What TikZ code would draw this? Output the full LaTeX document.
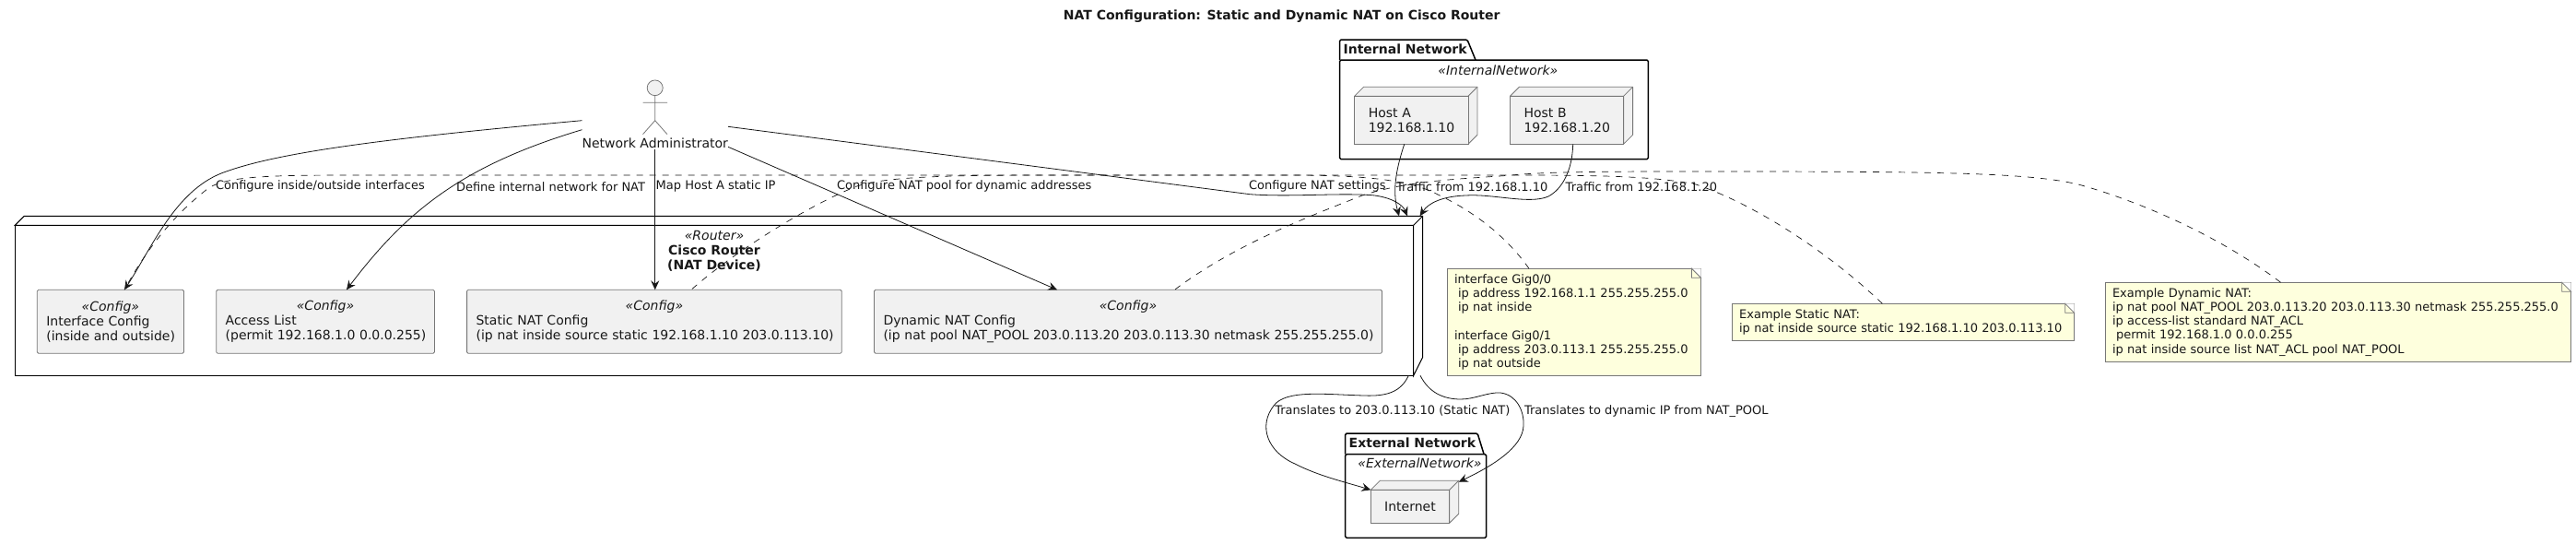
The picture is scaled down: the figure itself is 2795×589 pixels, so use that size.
\documentclass[tikz,border=0pt]{standalone}
\usepackage{fontspec}
\setmainfont{DejaVu Sans}
\usetikzlibrary{arrows.meta,shapes.geometric}
\newcommand{\fA}{\fontsize{14}{16}\selectfont}
\newcommand{\fB}{\fontsize{13}{15.15}\selectfont}
\newcommand{\lft}[1]{\makebox[\linewidth][l]{#1}}
\definecolor{ink}{HTML}{181818}
\definecolor{edge}{HTML}{777777}
\definecolor{boxfill}{HTML}{F1F1F1}
\definecolor{notefill}{HTML}{FEFFDD}
\tikzset{
  x=1pt,y=-1pt,
  every node/.style={inner sep=0pt,outer sep=0pt,text=ink},
  cfgbox/.style={draw=edge,line width=0.8pt,fill=boxfill,rounded corners=1.5pt,font=\fA,align=center},
  hostbox/.style={draw=edge,line width=0.8pt,fill=boxfill,font=\fA,align=left},
  sidefill/.style={draw=edge,line width=0.8pt,fill=boxfill,line join=round},
  routerbox/.style={draw=black,line width=1pt,fill=white},
  routerside/.style={draw=black,line width=1pt,fill=white},
  pkgline/.style={draw=black,line width=1.5pt,line join=round},
  notebox/.style={draw=edge,line width=0.8pt,fill=notefill,font=\fB,align=left},
  foldline/.style={draw=edge,line width=0.8pt},
  edgelabel/.style={font=\fB,anchor=west},
  arr/.style={draw=ink,line width=0.8pt,-{Stealth[length=10pt,width=9pt,inset=3.5pt]}},
  notelink/.style={draw=ink,line width=0.7pt,dash pattern=on 7pt off 7pt},
  actorline/.style={draw=edge,line width=0.8pt}
}
\begin{document}
\begin{tikzpicture}
\useasboundingbox (0,0) rectangle (2795,589);
\fill[white] (0,0) rectangle (2795,589);

\node[font=\fA\bfseries] (title) at (1390.7,18) {NAT Configuration: Static and Dynamic NAT on Cisco Router};

% Router
\node[routerbox,minimum width=1517.4pt,minimum height=163pt] (router) at (775,325.8) {};
\draw[routerside] (router.north west) -- ++(10,-10) -- ++(1517.4,0) -- ++(0,153) -- (router.south east) -- (router.north east) -- cycle;
\draw[routerside] (router.north east) -- ++(10,-10);
\node[font=\fA,align=center] (routerlabel) at (775,272.3) {\textit{«Router»}\\\textbf{Cisco Router}\\\textbf{(NAT Device)}};

% Config boxes
\node[cfgbox,minimum width=159.2pt,minimum height=69pt,text width=139.2pt] (iface) at (119.9,348.8)
  {\textit{«Config»}\\\lft{Interface Config}\\\lft{(inside and outside)}};
\node[cfgbox,minimum width=236.7pt,minimum height=69pt,text width=216.7pt] (access) at (353.05,348.8)
  {\textit{«Config»}\\\lft{Access List}\\\lft{(permit 192.168.1.0 0.0.0.255)}};
\node[cfgbox,minimum width=406.7pt,minimum height=69pt,text width=386.7pt] (static) at (709.95,348.8)
  {\textit{«Config»}\\\lft{Static NAT Config}\\\lft{(ip nat inside source static 192.168.1.10 203.0.113.10)}};
\node[cfgbox,minimum width=551pt,minimum height=69pt,text width=531pt] (dyn) at (1224,348.8)
  {\textit{«Config»}\\\lft{Dynamic NAT Config}\\\lft{(ip nat pool NAT\_POOL 203.0.113.20 203.0.113.30 netmask 255.255.255.0)}};

% Internal network package
\node[pkgline,fill=white,rounded corners=1.5pt,minimum width=334.8pt,minimum height=107.7pt] (pkgint) at (1621,118.85) {};
\draw[pkgline,rounded corners=1.5pt] (pkgint.north west) -- ++(0,-22) -- ++(138.4,0) -- ++(9,22);
\node[font=\fA\bfseries,anchor=west] (pkgintlabel) at (1457.6,53) {Internal Network};
\node[font=\fA\itshape] (pkgintst) at (1625.4,76.3) {«InternalNetwork»};

\draw[sidefill] (1469.6,104.3) -- ++(10,-10) -- ++(123.3,0) -- ++(0,52) -- ++(-10,10) -- ++(0,-52) -- cycle;
\node[hostbox,minimum width=123.3pt,minimum height=52pt,text width=93pt] (hostA) at (1531.25,130.3) {Host A\\192.168.1.10};
\draw[foldline] (hostA.north east) -- ++(10,-10);
\draw[sidefill] (1638.4,104.3) -- ++(10,-10) -- ++(123.2,0) -- ++(0,52) -- ++(-10,10) -- ++(0,-52) -- cycle;
\node[hostbox,minimum width=123.2pt,minimum height=52pt,text width=93pt] (hostB) at (1700,130.3) {Host B\\192.168.1.20};
\draw[foldline] (hostB.north east) -- ++(10,-10);

% External network package
\node[pkgline,fill=white,rounded corners=1.5pt,minimum width=153pt,minimum height=90.6pt] (pkgext) at (1536.2,538) {};
\draw[pkgline,rounded corners=1.5pt] (pkgext.north west) -- ++(0,-22.7) -- ++(143.4,0) -- ++(7,22.7);
\node[font=\fA\bfseries,anchor=west] (pkgextlabel) at (1463.7,480) {External Network};
\node[font=\fA\itshape] (pkgextst) at (1540.5,502.3) {«ExternalNetwork»};

\draw[sidefill] (1487.3,531.3) -- ++(10,-10) -- ++(85.4,0) -- ++(0,36) -- ++(-10,10) -- ++(0,-36) -- cycle;
\node[hostbox,align=center,minimum width=85.4pt,minimum height=36pt] (internet) at (1530,549.3) {Internet};
\draw[foldline] (internet.north east) -- ++(10,-10);

% Actor
\node[actorline,fill=boxfill,ellipse,minimum width=17pt,minimum height=16.7pt] (head) at (710.7,95.3) {};
\draw[actorline] (head.south) -- (710.7,130.7) (697.5,111.3) -- (724,111.3)
  (697.5,145.7) -- (710.7,130.7) -- (724,145.7);
\node[font=\fA,minimum width=158.5pt] (admin) at (710.75,155) {Network Administrator};

% Notes
\node[notebox,minimum width=275pt,minimum height=116pt,text width=260pt] (noteA) at (1708,349.3)
  {interface Gig0/0\\\hspace*{4pt}ip address 192.168.1.1 255.255.255.0\\\hspace*{4pt}ip nat inside\\\mbox{}\\interface Gig0/1\\\hspace*{4pt}ip address 203.0.113.1 255.255.255.0\\\hspace*{4pt}ip nat outside};
\node[notebox,minimum width=371.2pt,minimum height=40pt,text width=356pt] (noteB) at (2065.1,349.3)
  {Example Static NAT:\\ip nat inside source static 192.168.1.10 203.0.113.10};
\node[notebox,minimum width=505.3pt,minimum height=86pt,text width=490pt] (noteC) at (2537,349.3)
  {Example Dynamic NAT:\\ip nat pool NAT\_POOL 203.0.113.20 203.0.113.30 netmask 255.255.255.0\\ip access-list standard NAT\_ACL\\\hspace*{4pt}permit 192.168.1.0 0.0.0.255\\ip nat inside source list NAT\_ACL pool NAT\_POOL};
\foreach \n in {noteA,noteB,noteC}{
  \fill[white] ([xshift=-10]\n.north east) -- (\n.north east) -- ([yshift=-10]\n.north east) -- cycle;
  \draw[foldline,fill=notefill] ([xshift=-10]\n.north east) -- ([yshift=-10]\n.north east) -- ([xshift=-10,yshift=-10]\n.north east) -- cycle;
}

% Connectors
\draw[arr] ([yshift=24.3]admin.west) .. controls (420,150) and (300,165) .. (240,188)
  .. controls (190,208) and (165,268) .. ([xshift=15.1]iface.north);
\draw[arr] ([yshift=14.3]admin.west) .. controls (500,180) and (440,230) .. ([xshift=22.95]access.north);
\draw[arr] ([yshift=-2]admin.south) -- (admin.south |- static.north);
\draw[arr] ([yshift=-4.3]admin.east) -- ([xshift=-77]dyn.north);
\draw[arr] ([yshift=17.7]admin.east) -- (1356,210.7) .. controls (1400,214) and (1450,209) .. (1489,211.7)
  .. controls (1510,214) and (1522,222) .. ([xshift=752,yshift=10]router.north);
\draw[arr] ([xshift=-7.55]hostA.south) .. controls (1516,180) and (1510,205) .. ([xshift=743,yshift=10]router.north);
\draw[arr] ([xshift=6.7]hostB.south) .. controls (1706,185) and (1695,205) .. (1680,213)
  .. controls (1660,222) and (1620,210) .. (1590,212)
  .. controls (1565,213) and (1550,220) .. ([xshift=765.6,yshift=10]router.north);
\draw[arr] ([xshift=753.3]router.south) .. controls (1520,425) and (1505,430) .. (1480,429)
  .. controls (1440,428) and (1395,422) .. (1382,440)
  .. controls (1365,462) and (1375,490) .. (1405,503)
  .. controls (1430,516) and (1460,523) .. (internet.north west);
\draw[arr] ([xshift=766]router.south) .. controls (1550,425) and (1565,433) .. (1585,433)
  .. controls (1600,433) and (1615,425) .. (1628,426)
  .. controls (1645,428) and (1654,445) .. (1653,462)
  .. controls (1652,485) and (1620,505) .. ([xshift=10,yshift=8.6]internet.north east);

\draw[notelink] ([xshift=-49]noteA.north) .. controls (1630,250) and (1590,225) .. (1560,211)
  .. controls (1530,195) and (1480,190) .. (1400,190) -- (400,190)
  .. controls (300,190) and (245,190) .. (225,205)
  .. controls (190,232) and (160,268) .. ([xshift=15.1]iface.north);
\draw[notelink] ([xshift=-22.7]noteB.north) .. controls (1980,270) and (1900,220) .. (1840,200)
  .. controls (1790,190) and (1720,190) .. (1620,190) -- (1160,190)
  .. controls (1050,190) and (960,190) .. (927,203)
  .. controls (880,222) and (800,270) .. ([xshift=40]static.north);
\draw[notelink] ([xshift=-62.4]noteC.north) .. controls (2400,250) and (2310,215) .. (2255,200)
  .. controls (2200,187) and (2100,186) .. (1850,186)
  .. controls (1750,186) and (1680,186) .. (1640,190)
  .. controls (1590,194) and (1530,195) .. (1478,212)
  .. controls (1420,235) and (1340,265) .. ([xshift=50.5]dyn.north);

% Edge labels
\node[edgelabel] (l1) at (234,202.3) {Configure inside/outside interfaces};
\node[edgelabel] (l2) at (495,202.3) {Define internal network for NAT};
\node[edgelabel] (l3) at (711.7,202.3) {Map Host A static IP};
\node[edgelabel] (l4) at (908,202.3) {Configure NAT pool for dynamic addresses};
\node[edgelabel] (l5) at (1355,202.3) {Configure NAT settings};
\node[edgelabel] (l6) at (1515,202.3) {Traffic from 192.168.1.10};
\node[edgelabel] (l7) at (1698.7,202.3) {Traffic from 192.168.1.20};
\node[edgelabel] (l8) at (1383.3,445.7) {Translates to 203.0.113.10 (Static NAT)};
\node[edgelabel] (l9) at (1654,445.7) {Translates to dynamic IP from NAT\_POOL};
\end{tikzpicture}
\end{document}
